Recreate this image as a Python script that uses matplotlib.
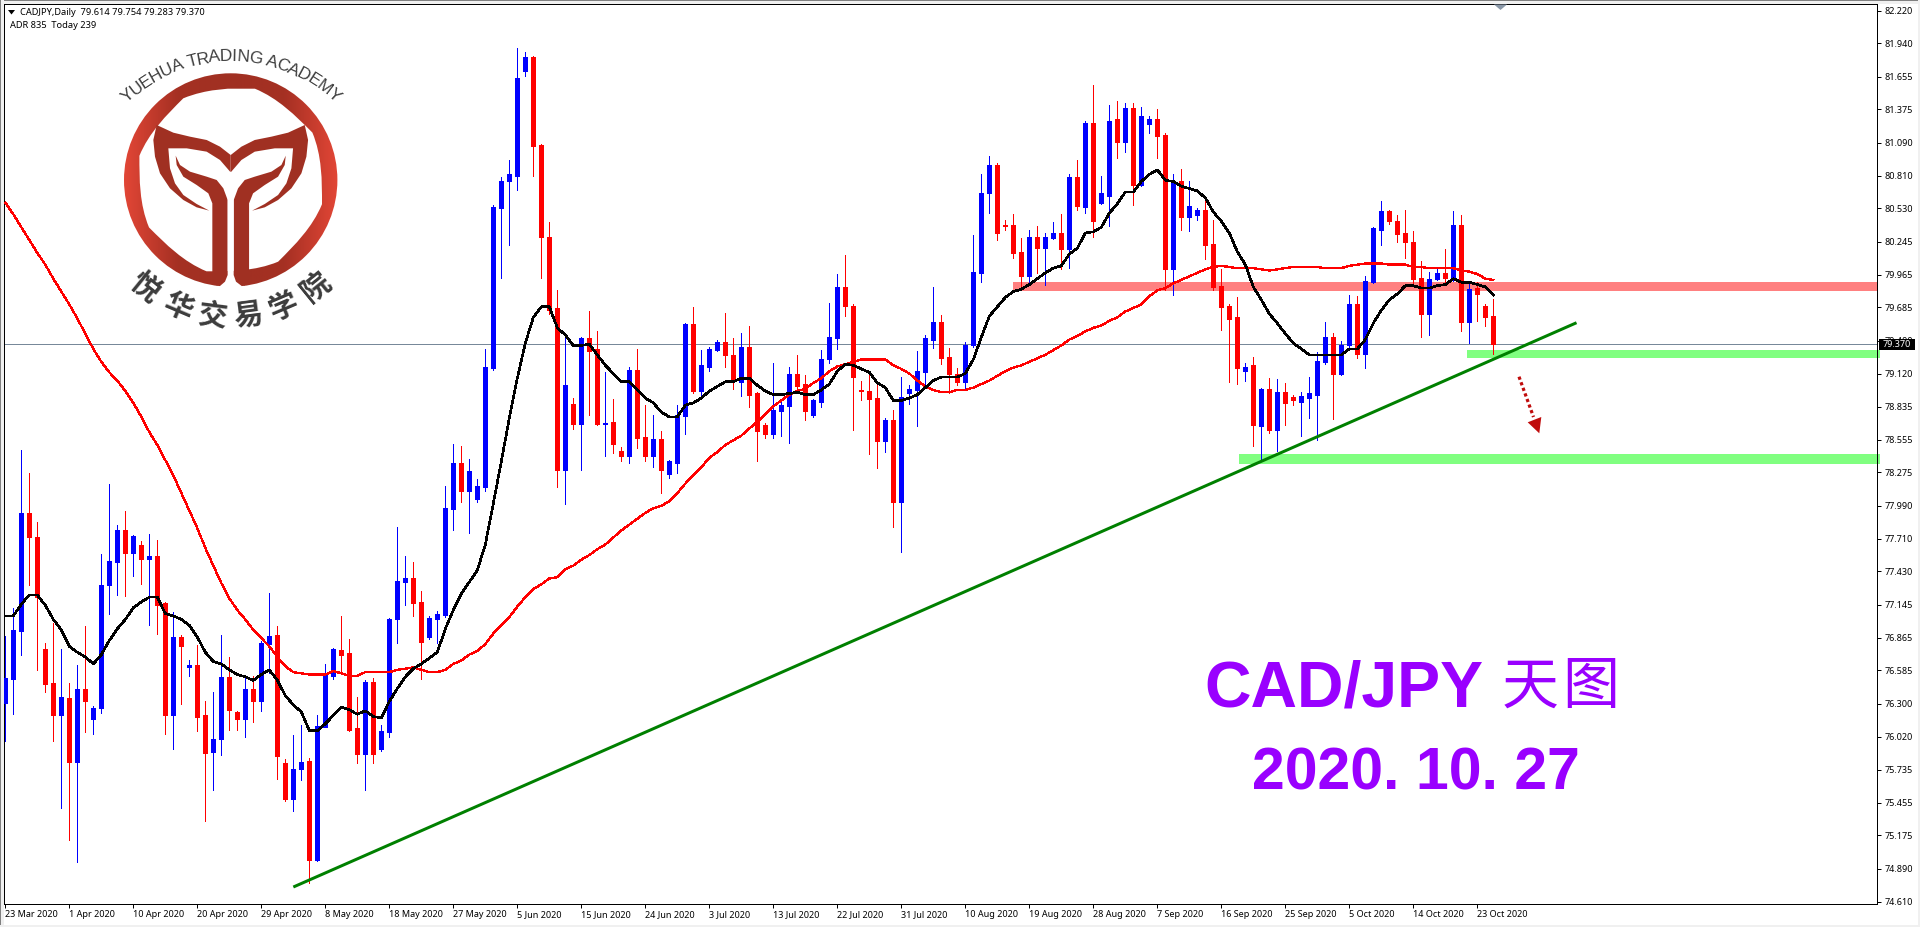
#!/usr/bin/env python3
# -*- coding: utf-8 -*-
import numpy as np
import matplotlib
matplotlib.use('Agg')
import matplotlib.pyplot as plt
from matplotlib.patches import Rectangle, Polygon, PathPatch
from matplotlib.path import Path
from matplotlib.colors import LinearSegmentedColormap

plt.rcParams['font.family'] = ['Noto Sans', 'DejaVu Sans']

# daily candles, one value per bar
opens = [76.31, 76.51, 76.92, 77.93, 77.72, 76.77, 76.48, 76.20, 76.35, 75.80,
         76.43, 76.17, 76.26, 77.31, 77.51, 77.78, 77.59, 77.66, 77.54, 77.56,
         77.16, 76.20, 76.87, 76.61, 76.63, 76.20, 75.89, 76.00, 76.53, 76.23,
         76.17, 76.43, 76.32, 76.81, 76.89, 75.79, 75.49, 75.74, 75.81, 74.97,
         76.10, 76.54, 76.76, 76.73, 76.09, 75.87, 76.49, 75.91, 76.06, 77.02,
         77.34, 77.37, 77.17, 76.87, 77.02, 77.06, 77.96, 78.36, 78.12, 78.05,
         78.15, 79.17, 80.53, 80.76, 80.81, 81.70, 81.82, 81.07, 80.29, 79.68,
         78.30, 78.86, 78.69, 79.42, 79.33, 78.69, 78.71, 78.46, 78.42, 79.15,
         78.58, 78.42, 78.56, 78.26, 78.36, 78.76, 79.54, 78.97, 79.18, 79.32,
         79.39, 79.28, 79.05, 79.35, 78.95, 78.68, 78.60, 78.80, 78.84, 79.12,
         79.03, 78.77, 78.88, 79.24, 79.42, 79.86, 79.70, 78.98, 78.97, 78.91,
         78.54, 78.72, 78.02, 78.95, 78.98, 79.13, 79.41, 79.56, 79.26, 79.12,
         79.05, 79.36, 79.98, 80.66, 80.90, 80.39, 80.39, 80.16, 79.95, 80.29,
         80.19, 80.28, 80.32, 80.18, 80.80, 80.54, 81.26, 80.58, 80.64, 81.29,
         81.10, 81.39, 80.73, 81.25, 81.29, 81.16, 80.01, 80.76, 80.46, 80.47,
         80.52, 80.23, 79.87, 79.70, 79.60, 79.14, 79.19, 78.67, 78.99, 78.64,
         78.96, 78.92, 78.88, 78.91, 78.94, 79.22, 79.43, 79.12, 79.36, 79.71,
         79.29, 79.90, 80.35, 80.51, 80.42, 80.32, 80.24, 79.94, 79.63, 79.93,
         79.98, 79.93, 80.39, 79.56, 79.85, 79.70, 79.614]
closes = [76.52, 76.93, 77.93, 77.72, 77.21, 76.47, 76.20, 76.36, 75.80, 76.43,
          76.32, 76.26, 77.31, 77.52, 77.78, 77.59, 77.73, 77.54, 77.56, 77.14,
          76.20, 76.87, 76.79, 76.63, 76.19, 75.88, 76.00, 76.53, 76.25, 76.17,
          76.43, 76.32, 76.82, 76.88, 75.85, 75.49, 75.74, 75.80, 74.97, 76.11,
          76.55, 76.77, 76.72, 76.08, 75.87, 76.49, 75.87, 76.07, 77.02, 77.35,
          77.37, 77.16, 76.83, 77.03, 77.07, 77.97, 78.36, 78.12, 78.29, 78.16,
          79.18, 80.54, 80.76, 80.82, 81.64, 81.82, 81.06, 80.29, 79.66, 78.30,
          79.02, 78.69, 79.42, 79.31, 78.69, 78.70, 78.52, 78.42, 79.15, 78.57,
          78.42, 78.56, 78.30, 78.37, 78.77, 79.54, 78.97, 79.19, 79.33, 79.39,
          79.28, 79.06, 79.35, 78.94, 78.63, 78.60, 78.81, 78.85, 79.12, 79.01,
          78.80, 78.89, 79.24, 79.43, 79.86, 79.70, 79.09, 78.97, 78.90, 78.54,
          78.72, 78.02, 78.92, 78.99, 79.14, 79.42, 79.56, 79.25, 79.12, 79.05,
          79.36, 79.99, 80.66, 80.90, 80.32, 80.38, 80.15, 79.95, 80.29, 80.19,
          80.29, 80.32, 80.18, 80.80, 80.55, 81.26, 80.42, 80.66, 81.28, 81.10,
          81.39, 80.73, 81.32, 81.29, 81.15, 80.01, 80.76, 80.46, 80.55, 80.52,
          80.22, 79.86, 79.69, 79.59, 79.17, 79.18, 78.68, 78.99, 78.64, 78.96,
          78.87, 78.89, 78.93, 78.95, 79.23, 79.43, 79.12, 79.36, 79.71, 79.29,
          79.91, 80.36, 80.51, 80.42, 80.31, 80.24, 79.93, 79.63, 79.93, 79.98,
          79.94, 80.39, 79.56, 79.84, 79.80, 79.60, 79.370]
highs = [76.88, 77.12, 78.47, 78.27, 77.85, 76.82, 76.99, 76.77, 76.48, 76.63,
         76.96, 76.28, 77.58, 78.18, 77.83, 77.95, 77.74, 77.69, 77.75, 77.70,
         77.17, 77.08, 76.89, 76.67, 76.80, 76.32, 76.40, 76.89, 76.70, 76.24,
         76.52, 76.54, 76.84, 77.25, 76.96, 75.83, 76.03, 76.12, 75.84, 76.20,
         76.64, 76.78, 77.05, 76.85, 76.36, 76.50, 76.52, 76.12, 77.03, 77.81,
         77.56, 77.51, 77.26, 77.05, 77.09, 78.16, 78.52, 78.50, 78.39, 78.22,
         79.33, 80.56, 80.80, 80.94, 81.90, 81.87, 81.83, 81.08, 80.41, 79.83,
         79.47, 78.91, 79.43, 79.65, 79.48, 79.13, 78.90, 78.49, 79.18, 79.33,
         78.85, 78.77, 78.63, 78.38, 78.85, 79.55, 79.69, 79.32, 79.35, 79.41,
         79.64, 79.42, 79.47, 79.53, 78.96, 78.70, 79.21, 78.90, 79.18, 79.28,
         79.11, 78.90, 79.32, 79.72, 79.97, 80.13, 79.71, 79.06, 79.12, 79.05,
         78.74, 78.81, 79.09, 79.02, 79.31, 79.45, 79.86, 79.62, 79.34, 79.17,
         79.39, 80.30, 80.82, 80.98, 80.92, 80.43, 80.48, 80.28, 80.35, 80.38,
         80.32, 80.41, 80.48, 80.82, 80.94, 81.28, 81.58, 80.81, 81.41, 81.45,
         81.43, 81.43, 81.40, 81.32, 81.38, 81.17, 80.82, 80.87, 80.76, 80.53,
         80.64, 80.43, 80.01, 79.71, 79.77, 79.21, 79.26, 79.00, 79.08, 79.07,
         79.04, 78.94, 78.96, 79.09, 79.30, 79.56, 79.47, 79.40, 79.79, 79.78,
         79.95, 80.37, 80.59, 80.52, 80.47, 80.52, 80.34, 80.08, 79.99, 80.01,
         80.18, 80.51, 80.47, 79.91, 79.90, 79.71, 79.754]
lows = [75.98, 76.21, 76.72, 77.31, 76.59, 76.40, 75.98, 75.41, 75.14, 74.95,
        76.06, 76.04, 76.22, 77.07, 77.23, 77.22, 77.39, 77.32, 76.97, 76.90,
        76.04, 75.91, 76.30, 76.54, 76.07, 75.30, 75.56, 75.86, 76.08, 76.08,
        76.02, 76.14, 76.24, 76.56, 75.66, 75.47, 75.38, 75.65, 74.77, 74.96,
        76.10, 76.51, 76.55, 76.07, 75.79, 75.56, 75.79, 75.90, 76.02, 76.82,
        77.14, 77.05, 76.51, 76.85, 76.82, 77.04, 77.78, 78.02, 77.76, 78.02,
        78.12, 79.15, 79.94, 80.22, 80.69, 81.66, 80.81, 79.94, 79.63, 78.15,
        78.01, 78.65, 78.30, 78.77, 78.68, 78.42, 78.44, 78.37, 78.36, 78.48,
        78.37, 78.32, 78.10, 78.23, 78.27, 78.60, 78.95, 78.91, 79.14, 79.31,
        79.18, 78.99, 78.93, 78.83, 78.37, 78.57, 78.57, 78.59, 78.53, 78.98,
        78.72, 78.75, 78.83, 79.21, 79.33, 79.61, 78.64, 78.89, 78.43, 78.31,
        78.45, 77.81, 77.60, 78.86, 78.67, 79.02, 79.34, 79.20, 78.95, 79.02,
        79.00, 79.35, 79.90, 80.49, 80.26, 80.35, 80.11, 79.87, 79.88, 79.98,
        79.88, 80.27, 80.01, 80.02, 80.52, 80.49, 80.29, 80.57, 80.38, 80.96,
        81.01, 80.56, 80.72, 81.17, 80.96, 79.83, 79.79, 80.35, 80.34, 80.43,
        80.10, 79.83, 79.49, 79.05, 79.03, 79.06, 78.50, 78.38, 78.61, 78.46,
        78.68, 78.85, 78.59, 78.74, 78.55, 79.20, 78.73, 79.11, 79.35, 79.25,
        79.17, 79.89, 80.22, 80.40, 80.24, 80.11, 79.88, 79.43, 79.45, 79.92,
        79.88, 79.91, 79.48, 79.38, 79.57, 79.53, 79.283]

# the two moving averages
ma_fast = [77.05, 77.05, 77.15, 77.23, 77.23, 77.14, 77.02, 76.93, 76.79, 76.74,
           76.70, 76.64, 76.72, 76.84, 76.94, 77.02, 77.12, 77.17, 77.21, 77.21,
           77.07, 77.05, 77.02, 76.97, 76.87, 76.74, 76.66, 76.64, 76.59, 76.55,
           76.53, 76.50, 76.55, 76.59, 76.50, 76.37, 76.29, 76.23, 76.07, 76.07,
           76.13, 76.20, 76.27, 76.25, 76.21, 76.24, 76.19, 76.18, 76.32, 76.43,
           76.53, 76.60, 76.64, 76.69, 76.74, 76.94, 77.10, 77.24, 77.34, 77.44,
           77.66, 78.01, 78.37, 78.74, 79.08, 79.38, 79.60, 79.69, 79.69, 79.51,
           79.45, 79.36, 79.36, 79.37, 79.28, 79.19, 79.12, 79.05, 79.05, 78.98,
           78.91, 78.87, 78.79, 78.75, 78.75, 78.85, 78.87, 78.91, 78.97, 79.01,
           79.05, 79.05, 79.08, 79.08, 79.02, 78.97, 78.94, 78.94, 78.95, 78.96,
           78.94, 78.94, 78.98, 79.03, 79.14, 79.20, 79.19, 79.16, 79.13, 79.04,
           79.00, 78.89, 78.89, 78.91, 78.94, 79.00, 79.06, 79.09, 79.09, 79.09,
           79.12, 79.24, 79.43, 79.61, 79.69, 79.77, 79.82, 79.84, 79.88, 79.93,
           79.98, 80.02, 80.04, 80.14, 80.19, 80.32, 80.33, 80.37, 80.49, 80.57,
           80.67, 80.67, 80.76, 80.82, 80.86, 80.77, 80.76, 80.72, 80.70, 80.68,
           80.62, 80.50, 80.42, 80.32, 80.16, 80.05, 79.86, 79.75, 79.63, 79.55,
           79.46, 79.38, 79.33, 79.28, 79.28, 79.28, 79.28, 79.28, 79.33, 79.33,
           79.41, 79.55, 79.66, 79.75, 79.80, 79.87, 79.87, 79.85, 79.85, 79.87,
           79.88, 79.93, 79.90, 79.90, 79.88, 79.86, 79.79]
ma_slow = [80.58, 80.48, 80.37, 80.26, 80.15, 80.05, 79.93, 79.82, 79.71, 79.59,
           79.46, 79.33, 79.22, 79.13, 79.06, 78.97, 78.87, 78.75, 78.62, 78.51,
           78.38, 78.25, 78.10, 77.95, 77.80, 77.63, 77.48, 77.33, 77.20, 77.10,
           77.02, 76.93, 76.86, 76.79, 76.70, 76.62, 76.57, 76.56, 76.55, 76.55,
           76.55, 76.58, 76.56, 76.54, 76.54, 76.57, 76.57, 76.57, 76.57, 76.59,
           76.60, 76.61, 76.59, 76.57, 76.57, 76.59, 76.64, 76.67, 76.72, 76.75,
           76.81, 76.90, 76.97, 77.04, 77.13, 77.21, 77.28, 77.32, 77.37, 77.38,
           77.45, 77.48, 77.53, 77.57, 77.62, 77.66, 77.72, 77.78, 77.83, 77.88,
           77.93, 77.97, 77.99, 78.03, 78.10, 78.18, 78.25, 78.32, 78.40, 78.45,
           78.51, 78.55, 78.59, 78.65, 78.71, 78.77, 78.84, 78.89, 78.94, 78.97,
           78.99, 79.04, 79.08, 79.14, 79.18, 79.20, 79.22, 79.24, 79.24, 79.24,
           79.24, 79.19, 79.16, 79.12, 79.06, 79.01, 78.98, 78.96, 78.96, 78.98,
           78.98, 79.00, 79.03, 79.06, 79.10, 79.14, 79.17, 79.19, 79.22, 79.25,
           79.28, 79.32, 79.36, 79.41, 79.44, 79.48, 79.51, 79.53, 79.57, 79.60,
           79.65, 79.68, 79.71, 79.78, 79.83, 79.85, 79.89, 79.92, 79.95, 79.98,
           80.01, 80.03, 80.04, 80.03, 80.02, 80.02, 80.02, 80.01, 80.00, 80.01,
           80.02, 80.03, 80.03, 80.03, 80.03, 80.02, 80.02, 80.02, 80.04, 80.05,
           80.06, 80.06, 80.06, 80.05, 80.05, 80.05, 80.03, 80.03, 80.02, 80.02,
           80.02, 80.02, 80.00, 79.99, 79.97, 79.93, 79.92]

price_ticks = [82.220, 81.940, 81.655, 81.375, 81.090, 80.810, 80.530, 80.245,
               79.965, 79.685, 79.400, 79.120, 78.835, 78.555, 78.275, 77.990,
               77.710, 77.430, 77.145, 76.865, 76.585, 76.300, 76.020, 75.735,
               75.455, 75.175, 74.890, 74.610]
date_labels = ['23 Mar 2020', '1 Apr 2020', '10 Apr 2020', '20 Apr 2020',
               '29 Apr 2020', '8 May 2020', '18 May 2020', '27 May 2020',
               '5 Jun 2020', '15 Jun 2020', '24 Jun 2020', '3 Jul 2020',
               '13 Jul 2020', '22 Jul 2020', '31 Jul 2020', '10 Aug 2020',
               '19 Aug 2020', '28 Aug 2020', '7 Sep 2020', '16 Sep 2020',
               '25 Sep 2020', '5 Oct 2020', '14 Oct 2020', '23 Oct 2020']
bid = 79.370

# drawn objects: trend line and zones (bar number, price)
trend_x = [36.0, 196.4]
trend_y = [74.735, 79.554]
zone_red = (125.96, 234.1, 79.825, 79.90)
zone_green_top = (182.7, 234.3, 79.253, 79.321)
zone_green_low = (154.2, 234.3, 78.348, 78.433)

PX = 0.72  # one pixel in points at dpi 100
fig = plt.figure(figsize=(19.2, 9.27), dpi=100, facecolor='white')
ax = fig.add_axes([4 / 1920, 23 / 927, 1873 / 1920, 900 / 927])
ax.set_xlim(-0.166, 233.96)
ax.set_ylim(74.590, 82.2758)

n = np.arange(len(opens))
o, c = np.array(opens), np.array(closes)
colors = np.where(c >= o, '#0000ff', '#ff0000')

for z in (zone_red, zone_green_top, zone_green_low):
    col = '#ff8080' if z is zone_red else '#80ff80'
    ax.add_patch(Rectangle((z[0], z[2]), z[1] - z[0], z[3] - z[2], fc=col, ec='none',
                           zorder=1, clip_on=False))

ax.axhline(bid, color='#778899', lw=PX, zorder=1.5)
ax.vlines(n, lows, highs, colors=colors, lw=PX, antialiased=False, zorder=2)
ax.bar(n, np.abs(c - o), bottom=np.minimum(o, c), width=0.5, color=colors, edgecolor=colors,
       linewidth=PX, antialiased=False, zorder=3)
ax.plot(n, ma_slow, color='#ff0000', lw=1.3 * PX, zorder=4, antialiased=False)
ax.plot(n, ma_fast, color='#000000', lw=1.6 * PX, zorder=5, antialiased=False)
ax.plot(trend_x, trend_y, color='#008000', lw=3 * PX, zorder=6, solid_capstyle='butt')

ax.yaxis.tick_right()
ax.set_yticks(price_ticks)
ax.set_yticklabels(['%.3f' % v for v in price_ticks])
ax.set_xticks(np.arange(len(date_labels)) * 8)
ax.set_xticklabels(date_labels, ha='left')
ax.tick_params(axis='y', length=3, width=PX, pad=2.2, labelsize=6.5, labelcolor='black')
ax.tick_params(axis='x', length=3, width=PX, pad=1.2, labelsize=6.5, labelcolor='black')
for s in ax.spines.values():
    s.set_linewidth(PX)

# overlay in screen pixels for the annotations and the logo
ov = fig.add_axes([0, 0, 1, 1], zorder=10)
ov.set_xlim(0, 1920)
ov.set_ylim(927, 0)
ov.axis('off')
ov.patch.set_alpha(0)

# window frame
ov.add_patch(Rectangle((0, 0), 1920, 3.5, fc='#f0f0f0', ec='none'))
ov.add_patch(Rectangle((0, 0), 1920, 1.2, fc='#808080', ec='none'))
ov.add_patch(Rectangle((0, 0), 3.5, 927, fc='#f0f0f0', ec='none'))
ov.add_patch(Rectangle((0, 0), 1.2, 927, fc='#808080', ec='none'))
ov.add_patch(Rectangle((0, 925), 1920, 2, fc='#f0f0f0', ec='none'))
ov.add_patch(Rectangle((1918, 0), 2, 927, fc='#f0f0f0', ec='none'))

# price tag and shift marker
ov.add_patch(Rectangle((1879, 339), 36, 11, fc='black', ec='none'))
ov.text(1883, 344.6, '%.3f' % bid, color='white', fontsize=6.5, va='center', ha='left')
ov.add_patch(Polygon([(1494, 4.5), (1507, 4.5), (1500.5, 10)], fc='#8a98a8', ec='none'))

# header
ov.add_patch(Polygon([(8, 10), (15, 10), (11.5, 14.5)], fc='black', ec='none'))
ov.text(20, 12.5, 'CADJPY,Daily  79.614 79.754 79.283 79.370', fontsize=6.7, va='center', ha='left')
ov.text(10, 25.5, 'ADR 835  Today 239', fontsize=6.7, va='center', ha='left')

# dotted arrow
ov.plot([1519, 1533.5], [376.7, 417], color='#c00c0c', lw=3.2 * PX, ls=(0, (1, 0.85)))
ov.add_patch(Polygon([(1527.7, 422.3), (1541.3, 417), (1539.3, 433.3)], fc='#c00c0c', ec='none'))

# titles
ov.text(1204, 707, 'CAD/JPY', color='#9900ff', fontsize=46.4, fontweight='bold',
        family='Liberation Sans', va='baseline', ha='left')
ov.text(1530.5, 687, '天', color='#9900ff', fontsize=41, family='Noto Sans CJK SC',
        fontweight='medium', va='center', ha='center')
ov.text(1591, 687, '图', color='#9900ff', fontsize=41, family='Noto Sans CJK SC',
        fontweight='medium', va='center', ha='center')
ov.text(1252, 790, '2020. 10. 27', color='#9900ff', fontsize=42.5, fontweight='bold',
        family='Liberation Sans', va='baseline', ha='left')

# logo
cx, cy = 230.7, 180.0
ring_cmap = LinearSegmentedColormap.from_list('ring', ['#e24636', '#a53023', '#a03022', '#a53023', '#e24636'])
grad = ov.imshow(np.linspace(0, 1, 256).reshape(1, -1), cmap=ring_cmap, aspect='auto',
                 extent=(cx - 107, cx + 107, cy + 107, cy - 107), zorder=2)
ov.set_xlim(0, 1920)
ov.set_ylim(927, 0)
outer = Path.circle((cx, cy), 106.7)
inner = Path.circle((cx, cy), 91.3)
ring = Path(np.vstack([outer.vertices, inner.vertices[::-1]]),
            np.concatenate([outer.codes, inner.codes]))
clip = PathPatch(ring, transform=ov.transData, fc='none', ec='none')
ov.add_patch(clip)
grad.set_clip_path(clip)


def logo_pts(pts, mirror=False):
    # outline points were taken from a 3x crop of the logo
    xy = np.array(pts, dtype=float) / 3.0
    if mirror:
        xy[:, 0] = 2 * cx - xy[:, 0]
    return xy


band = [(692, 465), (660, 440), (620, 420), (570, 410), (520, 398), (470, 375), (460, 420),
        (465, 470), (480, 520), (510, 565), (550, 600), (590, 622), (628, 632), (590, 612),
        (550, 585), (525, 550), (510, 505), (505, 445), (560, 445), (620, 455), (660, 480),
        (692, 517)]
leaf = [(527, 467), (540, 495), (570, 515), (620, 530), (650, 540), (670, 565), (683, 600),
        (683, 830), (675, 850), (650, 857), (637, 835), (637, 610), (625, 580), (590, 555),
        (550, 530), (530, 495)]
gap = [(683, 520), (692, 515), (701, 520), (701, 825), (708, 845), (725, 858), (725, 875), (660, 875),
       (660, 858), (675, 845), (683, 825)]
for m in (False, True):
    ov.add_patch(Polygon(logo_pts(band, m), fc='#a03022', ec='none', zorder=3))
    ov.add_patch(Polygon(logo_pts(leaf, m), fc='#a03022', ec='none', zorder=3))
ov.add_patch(Polygon(logo_pts(gap), fc='white', ec='none', zorder=4))

# curved name above the ring
name = 'YUEHUA TRADING ACADEMY'
adv = {'Y': .667, 'U': .722, 'E': .667, 'H': .722, 'A': .667, ' ': .278, 'T': .611, 'R': .722,
       'D': .722, 'I': .278, 'N': .722, 'G': .778, 'C': .722, 'M': .833}
em, r_txt, cy_txt = 16.2, 150.0, 211.0
total = sum(adv[ch] for ch in name) * em
pos = -total / 2
for ch in name:
    w = adv[ch] * em
    a = (pos + w / 2) / r_txt
    ov.text(cx + r_txt * np.sin(a), cy_txt - r_txt * np.cos(a), ch, family='Liberation Sans',
            fontsize=12.5, color='#404040', rotation=-np.degrees(a), rotation_mode='anchor',
            ha='center', va='baseline', zorder=5)
    pos += w

# Chinese name under the ring
for ch, deg in zip('悦华交易学院', [-39, -23, -7.5, 7.5, 23, 39]):
    a = np.radians(deg)
    ov.text(cx + 135 * np.sin(a), 182 + 135 * np.cos(a), ch, family='Noto Sans CJK SC',
            fontweight='bold', fontsize=21, color='#3c3c3c', rotation=deg,
            rotation_mode='anchor', ha='center', va='center', zorder=5)

fig.savefig('out.png', dpi=100)
